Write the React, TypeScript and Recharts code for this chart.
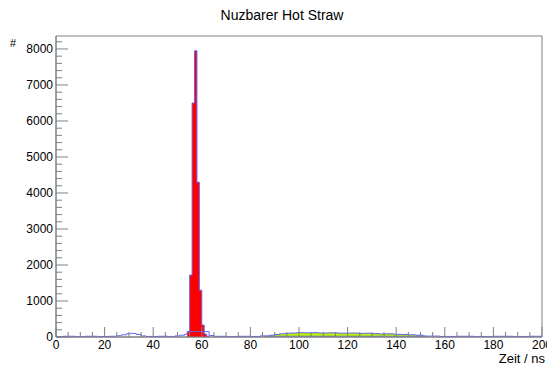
import React from 'react';
import { ComposedChart, Area, Line, XAxis, YAxis, ReferenceArea } from 'recharts';

// histogram contents: [bin start in ns, counts]; a count holds until the next entry
const allHits: [number, number][] = [
  [0, 10], [3, 20], [8, 10], [12, 20], [17, 15], [22, 20], [25, 35], [27, 60],
  [29, 90], [31, 100], [33, 70], [35, 30], [37, 15], [42, 20], [46, 15], [49, 30],
  [51, 50], [53, 80], [54, 150], [63, 40], [65, 20], [70, 15], [75, 20], [80, 15],
  [84, 30], [86, 20], [152, 25], [158, 15], [165, 20], [172, 15], [180, 20],
  [188, 15], [195, 20], [200, 20],
];

const lateHits: [number, number][] = [
  [86, 30], [88, 50], [90, 70], [92, 90], [94, 100], [96, 110], [99, 120], [102, 115],
  [105, 120], [108, 110], [112, 115], [116, 105], [120, 110], [124, 100], [127, 105],
  [130, 95], [133, 85], [136, 90], [139, 75], [142, 70], [145, 60], [148, 50],
  [151, 30], [152, 0],
];

const peakHits: [number, number][] = [
  [54, 150], [55, 1720], [56, 6500], [57, 7950], [58, 4300], [59, 1300],
  [60, 330], [61, 80], [62, 20], [63, 0],
];

const xMajor = [0, 20, 40, 60, 80, 100, 120, 140, 160, 180, 200];
const yMajor = [0, 1000, 2000, 3000, 4000, 5000, 6000, 7000, 8000];
const xMinorStep = 5;
const yMinorStep = 200;
const xMax = 200;
const yMax = 8360;

const xTicks: number[] = [];
for (let t = 0; t <= xMax; t += xMinorStep) xTicks.push(t);
const yTicks: number[] = [];
for (let v = 0; v <= 8200; v += yMinorStep) yTicks.push(v);

const valueAt = (h: [number, number][], t: number) => {
  if (t < h[0][0] || t > h[h.length - 1][0]) return null;
  let v: number | null = null;
  for (const [t0, c] of h) if (t0 <= t) v = c;
  return v;
};

const edges = Array.from(
  new Set([...allHits, ...lateHits, ...peakHits].map((p) => p[0]))
).sort((a, b) => a - b);

const table = edges.map((t) => ({
  t,
  all: valueAt(allHits, t),
  late: valueAt(lateHits, t),
  peak: valueAt(peakHits, t),
}));

const font = '"Liberation Sans", Arial, sans-serif';
const tickColor = '#808080';
const outline = '#6464f0';

const XTick = (props: any) => {
  const { x, y, payload } = props;
  const major = xMajor.includes(payload.value);
  return (
    <g>
      <line x1={x} x2={x} y1={y} y2={y - (major ? 10 : 5)} stroke={tickColor} />
      {major && (
        <text x={x} y={y + 12} textAnchor="middle" fontSize={12} fontFamily={font} fill="#000">
          {payload.value}
        </text>
      )}
    </g>
  );
};

const YTick = (props: any) => {
  const { x, y, payload } = props;
  const major = yMajor.includes(payload.value);
  return (
    <g>
      <line x1={x} x2={x + (major ? 12 : 6)} y1={y} y2={y} stroke={tickColor} />
      {major && (
        <text x={x - 3} y={y + 4} textAnchor="end" fontSize={12} fontFamily={font} fill="#000">
          {payload.value}
        </text>
      )}
    </g>
  );
};

export default function App() {
  return (
    <div style={{ position: 'absolute', left: 0, top: 0, width: 547, height: 365, background: '#fff', fontFamily: font }}>
      <ComposedChart
        width={547}
        height={365}
        data={table}
        margin={{ top: 36, right: 5, bottom: 0, left: 0 }}
      >
        <XAxis
          dataKey="t"
          type="number"
          domain={[0, xMax]}
          ticks={xTicks}
          interval={0}
          tickSize={0}
          tickMargin={0}
          tickLine={false}
          tick={XTick}
          axisLine={{ stroke: tickColor }}
          height={28}
          allowDataOverflow
        />
        <YAxis
          type="number"
          domain={[0, yMax]}
          ticks={yTicks}
          interval={0}
          tickSize={0}
          tickMargin={0}
          tickLine={false}
          tick={YTick}
          axisLine={{ stroke: tickColor }}
          width={56}
          allowDataOverflow
        />
        <ReferenceArea x1={0} x2={xMax} y1={0} y2={yMax} fill="none" stroke={tickColor} />
        <Line
          dataKey="all"
          type="stepAfter"
          stroke={outline}
          strokeWidth={1}
          dot={false}
          activeDot={false}
          isAnimationActive={false}
        />
        <Area
          dataKey="late"
          type="stepAfter"
          stroke={outline}
          strokeWidth={1}
          fill="#bbf500"
          fillOpacity={1}
          dot={false}
          activeDot={false}
          isAnimationActive={false}
        />
        <Area
          dataKey="peak"
          type="stepAfter"
          stroke={outline}
          strokeWidth={1}
          fill="#ff0000"
          fillOpacity={1}
          dot={false}
          activeDot={false}
          isAnimationActive={false}
        />
      </ComposedChart>
      <div style={{ position: 'absolute', left: 282, top: 8, transform: 'translateX(-50%)', whiteSpace: 'nowrap', fontSize: 14, lineHeight: 1 }}>
        Nuzbarer Hot Straw
      </div>
      <div style={{ position: 'absolute', left: 10, top: 38, fontSize: 11, lineHeight: 1 }}>#</div>
      <div style={{ position: 'absolute', right: 2, top: 352, fontSize: 13, lineHeight: 1, whiteSpace: 'nowrap' }}>
        Zeit / ns
      </div>
    </div>
  );
}
